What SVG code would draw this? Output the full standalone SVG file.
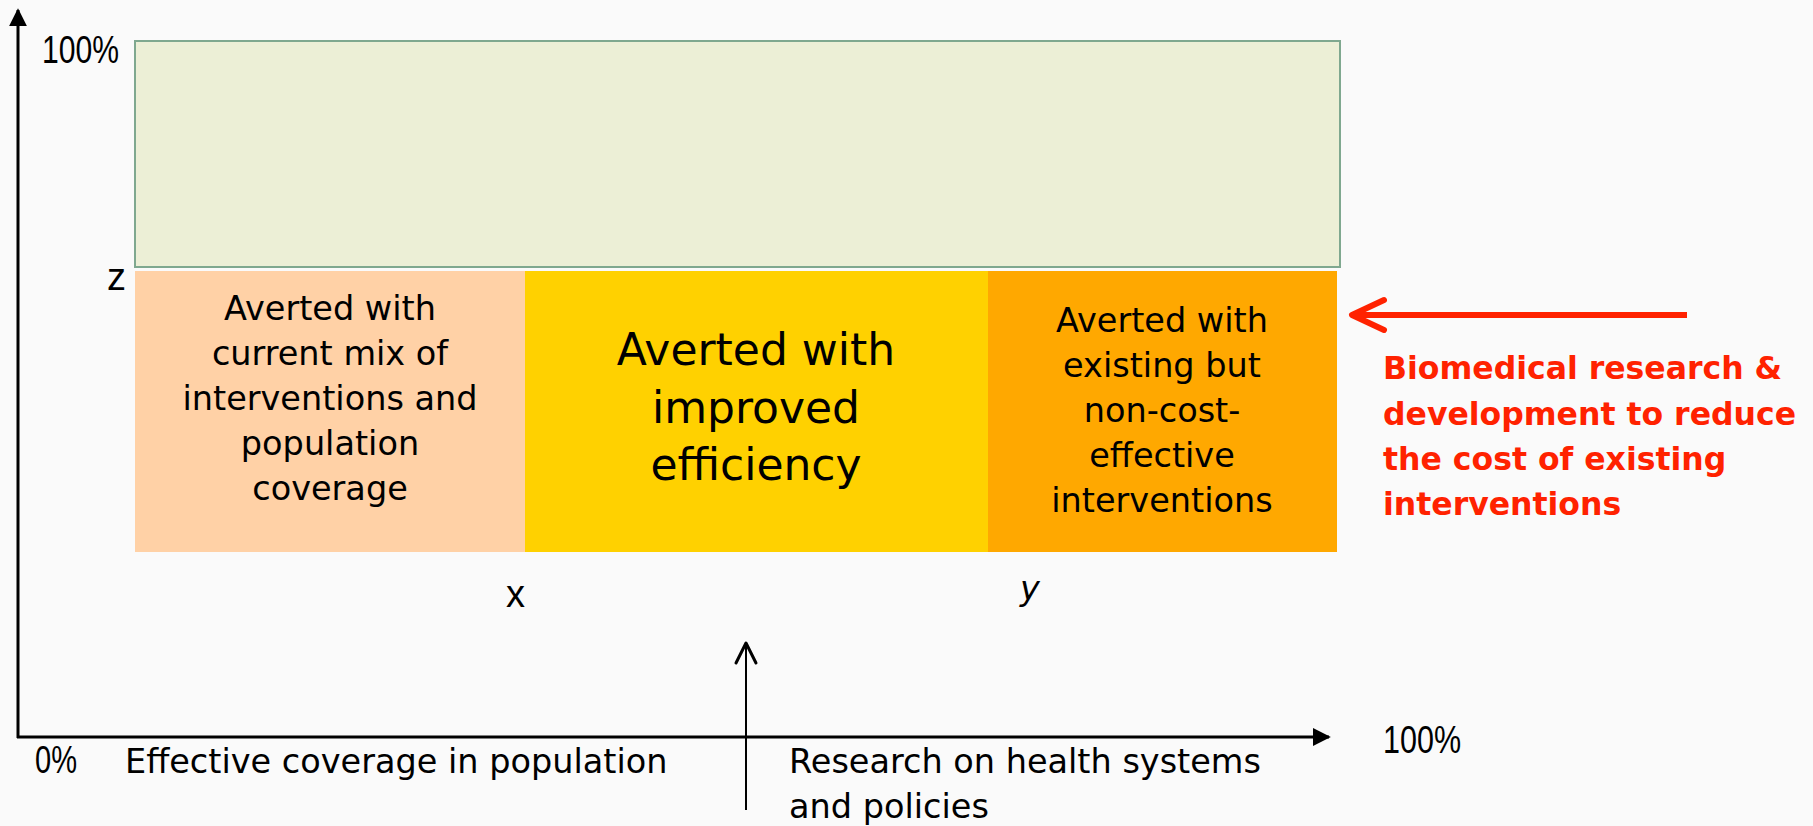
<svg xmlns="http://www.w3.org/2000/svg" width="1813" height="826" viewBox="0 0 1813 826">
<style>
.body{font-family:"DejaVu Sans","Liberation Sans",sans-serif;font-size:33.5px;fill:#000}
.big{font-family:"DejaVu Sans","Liberation Sans",sans-serif;font-size:44px;fill:#000}
.lab{font-family:"Liberation Sans",Arial,sans-serif;font-size:38px;fill:#000}
.red{font-family:"DejaVu Sans","Liberation Sans",sans-serif;font-size:31.5px;font-weight:bold;fill:#ff2200}
.axis{stroke:#000;stroke-width:3;fill:none}
</style>
<defs>
<marker id="tri" viewBox="0 0 10 10" refX="9" refY="5" markerWidth="6" markerHeight="6" markerUnits="strokeWidth" orient="auto">
<path d="M0,0 L10,5 L0,10 z" fill="#000"/>
</marker>
</defs>
<rect width="1813" height="826" fill="#fafafa"/>
<g id="top-region">
<rect x="135" y="41" width="1205" height="226" fill="#ecefd6" stroke="#7fa88f" stroke-width="2"/>
</g>
<g id="box-current">
<rect x="135" y="271" width="390" height="281" fill="#ffd1a6"/>
<text class="body" text-anchor="middle"><tspan x="330" y="320">Averted with</tspan><tspan x="330" y="365">current mix of</tspan><tspan x="330" y="410">interventions and</tspan><tspan x="330" y="455">population</tspan><tspan x="330" y="500">coverage</tspan></text>
</g>
<g id="box-efficiency">
<rect x="525" y="271" width="463" height="281" fill="#ffd100"/>
<text class="big" text-anchor="middle"><tspan x="756" y="365">Averted with</tspan><tspan x="756" y="423">improved</tspan><tspan x="756" y="480">efficiency</tspan></text>
</g>
<g id="box-noncost">
<rect x="988" y="271" width="349" height="281" fill="#ffa800"/>
<text class="body" text-anchor="middle"><tspan x="1162" y="332">Averted with</tspan><tspan x="1162" y="377">existing but</tspan><tspan x="1162" y="422">non-cost-</tspan><tspan x="1162" y="467">effective</tspan><tspan x="1162" y="512">interventions</tspan></text>
</g>
<g id="connectors">
<line class="axis" x1="18" y1="738" x2="18" y2="10" marker-end="url(#tri)"/>
<line class="axis" x1="17" y1="737" x2="1329" y2="737" marker-end="url(#tri)"/>
<line x1="746" y1="810" x2="746" y2="644" stroke="#000" stroke-width="2"/>
<polyline points="736,663 746,643 756,663" fill="none" stroke="#000" stroke-width="3" stroke-linecap="round" stroke-linejoin="round"/>
<line x1="1354" y1="315" x2="1687" y2="315" stroke="#ff2200" stroke-width="6"/>
<polyline points="1384,300 1352,315 1384,330" fill="none" stroke="#ff2200" stroke-width="6" stroke-linecap="round" stroke-linejoin="round"/>
</g>
<g id="labels">
<text class="lab" x="42" y="63" textLength="77" lengthAdjust="spacingAndGlyphs">100%</text>
<text class="lab" x="107" y="290">z</text>
<text class="lab" x="506" y="607">x</text>
<text class="body" x="1020" y="600" font-style="italic">y</text>
<text class="lab" x="35" y="773" textLength="42" lengthAdjust="spacingAndGlyphs">0%</text>
<text class="body" x="125" y="773">Effective coverage in population</text>
<text class="body"><tspan x="789" y="773">Research on health systems</tspan><tspan x="789" y="818">and policies</tspan></text>
<text class="lab" x="1383" y="753" textLength="78" lengthAdjust="spacingAndGlyphs">100%</text>
</g>
<g id="biomedical-note">
<text class="red"><tspan x="1383" y="379">Biomedical research &amp;</tspan><tspan x="1383" y="425">development to reduce</tspan><tspan x="1383" y="470">the cost of existing</tspan><tspan x="1383" y="515">interventions</tspan></text>
</g>
</svg>
